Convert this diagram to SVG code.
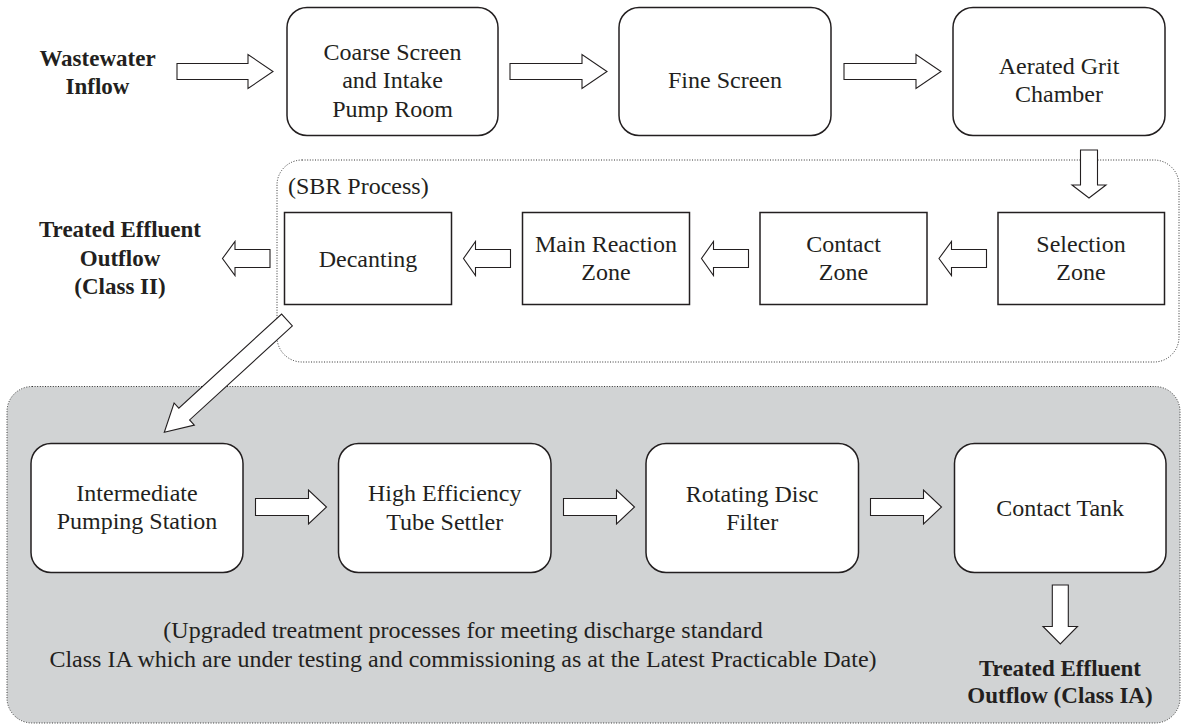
<svg xmlns="http://www.w3.org/2000/svg" width="1181" height="725" viewBox="0 0 1181 725">
<style>
.rbox{fill:#fff;stroke:#231f20;stroke-width:1.5}
.sbox{fill:#fff;stroke:#231f20;stroke-width:1.5}
.arr{fill:#fff;stroke:#231f20;stroke-width:1.1;stroke-linejoin:miter}
.region{stroke:#333;stroke-width:1;stroke-dasharray:1 1.6}
.t{font-family:"Liberation Serif","Times New Roman",serif;font-size:24px;fill:#231f20;text-anchor:middle}
.b{font-family:"Liberation Serif","Times New Roman",serif;font-size:23px;font-weight:bold;fill:#231f20;text-anchor:middle}
.l{font-family:"Liberation Serif","Times New Roman",serif;font-size:24px;fill:#231f20}
</style>
<rect width="1181" height="725" fill="#fff"/>
<g id="upgrade-region">
<rect class="region" x="7" y="386.5" width="1173" height="336.5" rx="25" fill="#d1d3d4"/>
<text class="t" x="463" y="638">(Upgraded treatment processes for meeting discharge standard</text>
<text class="t" x="463" y="666.5">Class IA which are under testing and commissioning as at the Latest Practicable Date)</text>
</g>
<g id="sbr-region">
<rect class="region" x="277" y="160" width="902" height="202" rx="25" fill="none"/>
<text class="l" x="288" y="194">(SBR Process)</text>
</g>
<g id="wastewater-inflow">
<text class="b" x="97.5" y="65.5">Wastewater</text>
<text class="b" x="97.5" y="94">Inflow</text>
</g>
<g id="coarse-screen">
<rect class="rbox" x="287" y="7.5" width="211" height="128" rx="20"/>
<text class="t" x="392.5" y="59.5">Coarse Screen</text>
<text class="t" x="392.5" y="88">and Intake</text>
<text class="t" x="392.5" y="116.5">Pump Room</text>
</g>
<g id="fine-screen">
<rect class="rbox" x="619" y="7.5" width="212" height="128" rx="20"/>
<text class="t" x="725" y="88">Fine Screen</text>
</g>
<g id="grit-chamber">
<rect class="rbox" x="953" y="7.5" width="212" height="128" rx="20"/>
<text class="t" x="1059" y="73.5">Aerated Grit</text>
<text class="t" x="1059" y="102">Chamber</text>
</g>
<g id="decanting">
<rect class="sbox" x="284.5" y="212.5" width="167" height="92"/>
<text class="t" x="368" y="266.5">Decanting</text>
</g>
<g id="main-reaction">
<rect class="sbox" x="522.5" y="212.5" width="167" height="92"/>
<text class="t" x="606" y="252">Main Reaction</text>
<text class="t" x="606" y="280">Zone</text>
</g>
<g id="contact-zone">
<rect class="sbox" x="760" y="212.5" width="167" height="92"/>
<text class="t" x="843.5" y="252">Contact</text>
<text class="t" x="843.5" y="280">Zone</text>
</g>
<g id="selection-zone">
<rect class="sbox" x="998" y="212.5" width="166.5" height="92"/>
<text class="t" x="1081" y="252">Selection</text>
<text class="t" x="1081" y="280">Zone</text>
</g>
<g id="treated-class-ii">
<text class="b" x="120" y="237">Treated Effluent</text>
<text class="b" x="120" y="265.5">Outflow</text>
<text class="b" x="120" y="294">(Class II)</text>
</g>
<g id="intermediate-pumping">
<rect class="rbox" x="31" y="443.5" width="212" height="129" rx="20"/>
<text class="t" x="137" y="500.5">Intermediate</text>
<text class="t" x="137" y="529">Pumping Station</text>
</g>
<g id="tube-settler">
<rect class="rbox" x="338.5" y="443.5" width="212.5" height="129" rx="20"/>
<text class="t" x="444.7" y="501">High Efficiency</text>
<text class="t" x="444.7" y="529.5">Tube Settler</text>
</g>
<g id="disc-filter">
<rect class="rbox" x="646" y="443.5" width="212.5" height="129" rx="20"/>
<text class="t" x="752.2" y="501.5">Rotating Disc</text>
<text class="t" x="752.2" y="530">Filter</text>
</g>
<g id="contact-tank">
<rect class="rbox" x="954.5" y="443.5" width="211.5" height="129" rx="20"/>
<text class="t" x="1060.2" y="515.5">Contact Tank</text>
</g>
<g id="treated-class-ia">
<text class="b" x="1060" y="675.5">Treated Effluent</text>
<text class="b" x="1060" y="703">Outflow (Class IA)</text>
</g>
<g id="connectors">
<polygon class="arr" points="177,63.5 248,63.5 248,54.5 273,71.5 248,88.5 248,79.5 177,79.5"/>
<polygon class="arr" points="510,63.5 582,63.5 582,54.5 607,71.5 582,88.5 582,79.5 510,79.5"/>
<polygon class="arr" points="844,63.5 916,63.5 916,54.5 941,71.5 916,88.5 916,79.5 844,79.5"/>
<polygon class="arr" points="1080.5,150 1097.5,150 1097.5,185 1106,185 1089,198 1072,185 1080.5,185"/>
<polygon class="arr" points="986.5,249.5 951.5,249.5 951.5,241.5 939,258.5 951.5,275.5 951.5,267.5 986.5,267.5"/>
<polygon class="arr" points="748.5,249.5 713.5,249.5 713.5,241.5 701.5,258.5 713.5,275.5 713.5,267.5 748.5,267.5"/>
<polygon class="arr" points="510.5,249.5 475.5,249.5 475.5,241.5 463.5,258.5 475.5,275.5 475.5,267.5 510.5,267.5"/>
<polygon class="arr" points="270,249.5 235,249.5 235,241.5 222.5,258.5 235,275.5 235,267.5 270,267.5"/>
<polygon class="arr" transform="translate(287,320) rotate(137.55)" points="0,-8 139.3,-8 139.3,-15 166.3,0 139.3,15 139.3,8 0,8"/>
<polygon class="arr" points="255.5,498.5 308.5,498.5 308.5,490 326.5,507 308.5,524 308.5,515.5 255.5,515.5"/>
<polygon class="arr" points="563.5,498.5 616.5,498.5 616.5,490 634.5,507 616.5,524 616.5,515.5 563.5,515.5"/>
<polygon class="arr" points="870.5,498.5 923.5,498.5 923.5,490 941.5,507 923.5,524 923.5,515.5 870.5,515.5"/>
<polygon class="arr" points="1052.3,585 1068.3,585 1068.3,626.5 1077.5,626.5 1060.3,644 1043,626.5 1052.3,626.5"/>
</g>
</svg>
